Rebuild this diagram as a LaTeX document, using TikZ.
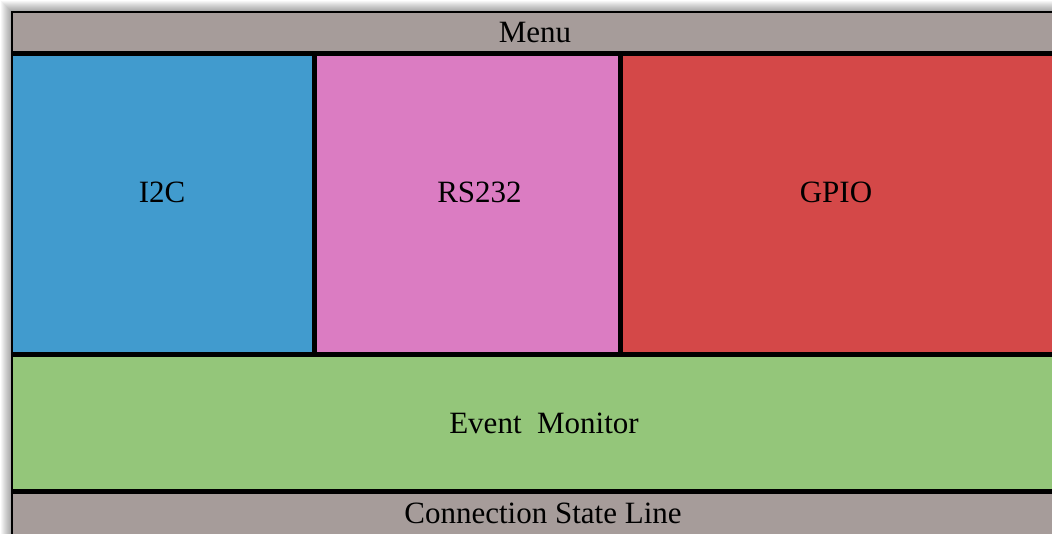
\documentclass[tikz,border=0pt]{standalone}
\usepackage{fontspec}
\setmainfont{Liberation Serif}
\definecolor{bargrey}{HTML}{A69C9A}
\definecolor{i2cblue}{HTML}{419BCE}
\definecolor{rspink}{HTML}{DB7CC2}
\definecolor{gpiored}{HTML}{D44848}
\definecolor{evgreen}{HTML}{94C67A}
\tikzset{
  panel/.style={draw=none, inner sep=0pt, outer sep=0pt, anchor=north west,
    font=\fontsize{31}{36}\selectfont, text=black},
  sep/.style={line width=5pt, black},
}
\begin{document}
\begin{tikzpicture}[x=1pt, y=-1pt]
\useasboundingbox (0,0) rectangle (1052,534);
\fill[white] (0,0) rectangle (1052,534);
% soft drop shadow behind the window
\foreach \i in {1,...,11}{
  \fill[black, opacity=0.035] (12-\i,12.5-\i) rectangle (1070,550);
}
% panels
\node[panel, fill=bargrey, minimum width=1047pt, minimum height=40pt] (menu) at (12,12) {};
\node[panel, fill=i2cblue, minimum width=303pt, minimum height=300pt] (i2c) at (12,53) {};
\node[panel, fill=rspink, minimum width=306pt, minimum height=300pt] (rs) at (314,53) {};
\node[panel, fill=gpiored, minimum width=442pt, minimum height=300pt] (gpio) at (619,53) {};
\node[panel, fill=evgreen, minimum width=1047pt, minimum height=140pt] (event) at (12,354) {};
\node[panel, fill=bargrey, minimum width=1047pt, minimum height=50pt] (conn) at (12,491) {};
% labels
\node[panel, anchor=center] (tmenu) at (535,33) {Menu};
\node[panel, anchor=center] (ti2c) at (162,192) {I2C};
\node[panel, anchor=center] (trs) at (479.5,192) {RS232};
\node[panel, anchor=center] (tgpio) at (836,192) {GPIO};
\node[panel, anchor=center] (tevent) at (544,423) {Event\ \ Monitor};
\node[panel, anchor=center] (tconn) at (543,513) {Connection State Line};
% frame and dividers
\draw[black, line width=2pt] (12,600) -- (12,12.5) -- (1100,12.5);
\draw[sep] (12,53.5) -- (1100,53.5);
\draw[sep] (314.5,53.5) -- (314.5,354.5);
\draw[sep] (620,53.5) -- (620,354.5);
\draw[sep] (12,354.5) -- (1100,354.5);
\draw[sep] (12,491.5) -- (1100,491.5);
\end{tikzpicture}
\end{document}
